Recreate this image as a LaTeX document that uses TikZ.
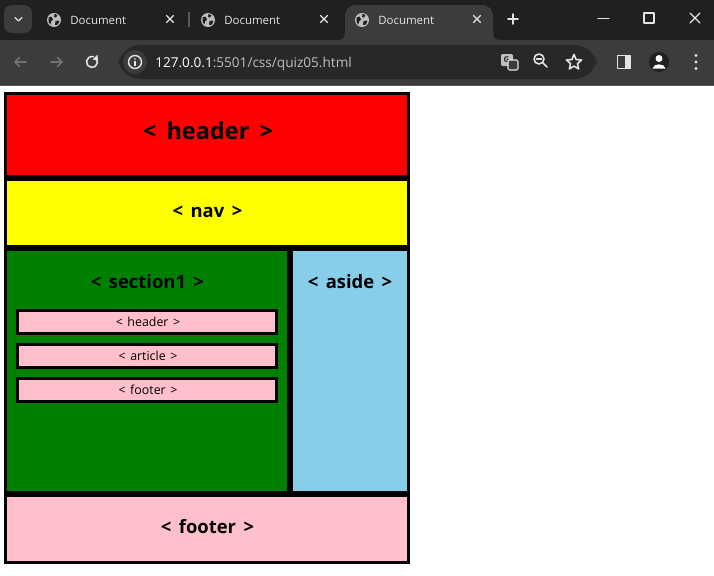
\documentclass[tikz,border=0pt]{standalone}
\usepackage{fontspec}
\setmainfont{Open Sans}
\usetikzlibrary{shapes.geometric}
\definecolor{strip}{RGB}{32,32,32}
\definecolor{tool}{RGB}{60,60,60}
\definecolor{pill}{RGB}{40,40,40}
\definecolor{uitext}{RGB}{227,227,227}
\definecolor{uigray}{RGB}{190,190,190}
\definecolor{uidim}{RGB}{115,115,115}
\definecolor{sepline}{RGB}{90,90,90}
\definecolor{redc}{RGB}{255,0,0}
\definecolor{yellowc}{RGB}{255,255,0}
\definecolor{skyb}{RGB}{135,206,235}
\definecolor{pinkc}{RGB}{255,192,203}
\definecolor{greenc}{RGB}{0,128,0}
\newcommand\tagtxt[2]{<\hspace{#1}#2\hspace{#1}>}
\tikzset{
  bx/.style={draw=black, line width=2.25pt},
  sbx/.style={draw=black, line width=2.25pt, fill=pinkc},
  bigtxt/.style={inner sep=0pt, font=\fontsize{17.6}{21}\selectfont\bfseries},
  midtxt/.style={inner sep=0pt, font=\fontsize{13.8}{17}\selectfont\bfseries},
  smalltxt/.style={inner sep=0pt, font=\fontsize{9.3}{11}\selectfont},
  tabtxt/.style={inner sep=0pt, anchor=west, text=uitext, font=\fontsize{8.6}{10}\selectfont},
  icon/.style={draw=uitext, line width=1pt, line cap=round, line join=round},
  globe/.pic={
    \fill[uigray] (0,0) circle (7);
    \fill[strip] (-5.5,-2.5) -- (-2.5,-3.5) -- (-1,-0.5) -- (-3,1.5) -- (-3.5,4.5) -- (-5.5,2) -- cycle;
    \fill[strip] (0.5,-6) -- (3.5,-5) -- (2,-2.5) -- (0,-3) -- cycle;
    \fill[strip] (1.5,1) -- (5.5,0.5) -- (4,4.5) -- (1,5) -- cycle;
  },
  closex/.pic={
    \draw[icon] (-3.5,-3.5) -- (3.5,3.5) (-3.5,3.5) -- (3.5,-3.5);
  }
}
\begin{document}
\begin{tikzpicture}[x=0.75pt,y=-0.75pt]
\useasboundingbox (0,0) rectangle (714,575);
\fill[white] (0,0) rectangle (714,575);
% ---------- browser chrome ----------
\fill[strip] (0,0) rectangle (714,40);
\fill[tool] (0,40) rectangle (714,85);
\draw[sepline, line width=0.75pt] (0,85.5) -- (714,85.5);
% active tab
\fill[tool, rounded corners=8] (345,5) rectangle (493,50);
\fill[tool] (337,40) .. controls (343,40) and (345,38) .. (345,32) -- (345,40) -- cycle;
\fill[tool] (501,40) .. controls (495,40) and (493,38) .. (493,32) -- (493,40) -- cycle;
% dropdown button
\fill[tool, rounded corners=6] (4,5) rectangle (32,33);
\draw[icon] (15,17.5) -- (18.5,21) -- (22,17.5);
% tabs
\pic at (54,20) {globe};
\node[tabtxt] (t1) at (70,20.5) {Document};
\pic at (170,19) {closex};
\draw[sepline, line width=1pt] (189,12) -- (189,27);
\pic at (208,20) {globe};
\node[tabtxt] (t2) at (224,20.5) {Document};
\pic at (324,19) {closex};
\pic at (362,20) {globe};
\node[tabtxt] (t3) at (378,20.5) {Document};
\pic at (477,19) {closex};
\draw[icon, line width=1.3pt] (508,19) -- (518,19) (513,14) -- (513,24);
% window controls
\draw[icon] (598,18.5) -- (609,18.5);
\draw[icon, line cap=butt] (644,13) rectangle (654,23);
\draw[icon] (690,13) -- (700,23) (690,23) -- (700,13);
% navigation buttons
\draw[uidim, line width=1.2pt, line cap=round, line join=round] (26,62) -- (15,62) (19.5,57.5) -- (15,62) -- (19.5,66.5);
\draw[uidim, line width=1.2pt, line cap=round, line join=round] (51,62) -- (62,62) (57.5,57.5) -- (62,62) -- (57.5,66.5);
\draw[icon, line width=1.2pt] ([shift={(-35:5.5)}]92,62) arc[start angle=-35, end angle=285, radius=5.5];
\fill[uitext] (97.5,54.5) -- (98,60.5) -- (92.5,59.5) -- cycle;
% address bar
\fill[pill, rounded corners=17] (118,45) rectangle (597,79);
\fill[tool] (135,62) circle (12);
\draw[icon, line width=1.1pt] (135,62) circle (6.5);
\fill[uitext] (135,59) circle (0.9);
\draw[uitext, line width=1.1pt] (135,61) -- (135,65.5);
\node[inner sep=0pt, anchor=base west, font=\fontsize{10.2}{12}\selectfont] (url) at (155,67)
  {\textcolor{white}{127.0.0.1}\textcolor{uigray}{:5501/css/quiz05.html}};
% translate icon
\fill[uigray, rounded corners=1] (501,54) rectangle (513,66);
\node[inner sep=0pt, text=strip, font=\fontsize{6}{6}\selectfont\bfseries] (g) at (506.5,59.5) {G};
\draw[uitext, fill=tool, line width=0.8pt, rounded corners=1] (508,60) rectangle (518,70);
% zoom icon
\draw[icon, line width=1.2pt] (539,59) circle (5);
\draw[icon, line width=1.2pt] (536.5,59) -- (541.5,59) (543,63) -- (547,67);
% star
\node[star, star points=5, star point ratio=2.2, draw=uitext, line width=1.2pt, line join=round, minimum size=12pt, inner sep=0pt] (star) at (574,62.5) {};
% side panel icon
\draw[icon, line width=1.3pt] (617.5,55.5) rectangle (630.5,68.5);
\fill[uitext] (624.5,55.5) rectangle (630.5,68.5);
% profile
\fill[strip] (659,62) circle (10);
\fill[white] (659,58.5) circle (3.5);
\fill[white] (652.5,68.5) .. controls (653,63) and (665,63) .. (665.5,68.5) -- cycle;
% kebab menu
\fill[uitext] (696,55.5) circle (1.6) (696,62) circle (1.6) (696,68.5) circle (1.6);
% ---------- page ----------
\draw[bx, fill=redc] (5.5,93.5) rectangle (408.5,176.5);
\draw[bx, fill=yellowc] (5.5,179.5) rectangle (408.5,246.5);
\draw[bx, fill=greenc] (5.5,249.5) rectangle (288.5,492.5);
\draw[bx, fill=skyb] (291.5,249.5) rectangle (408.5,492.5);
\draw[bx, fill=pinkc] (5.5,495.5) rectangle (408.5,562.5);
\draw[sbx] (17.5,310.5) rectangle (276.5,333.5);
\draw[sbx] (17.5,344.5) rectangle (276.5,367.5);
\draw[sbx] (17.5,378.5) rectangle (276.5,401.5);
\node[bigtxt] (header) at (208,131) {\tagtxt{7.6pt}{header}};
\node[midtxt] (nav) at (207.5,212) {\tagtxt{5.6pt}{nav}};
\node[midtxt] (section) at (147.5,281.5) {\tagtxt{5.6pt}{section1}};
\node[midtxt] (aside) at (350,281.5) {\tagtxt{5.6pt}{aside}};
\node[smalltxt] (sh) at (148,322) {\tagtxt{3.4pt}{header}};
\node[smalltxt] (sa) at (148,355.5) {\tagtxt{3.4pt}{article}};
\node[smalltxt] (sf) at (148,389.5) {\tagtxt{3.4pt}{footer}};
\node[midtxt] (footer) at (207.5,527) {\tagtxt{5.6pt}{footer}};
\end{tikzpicture}
\end{document}
